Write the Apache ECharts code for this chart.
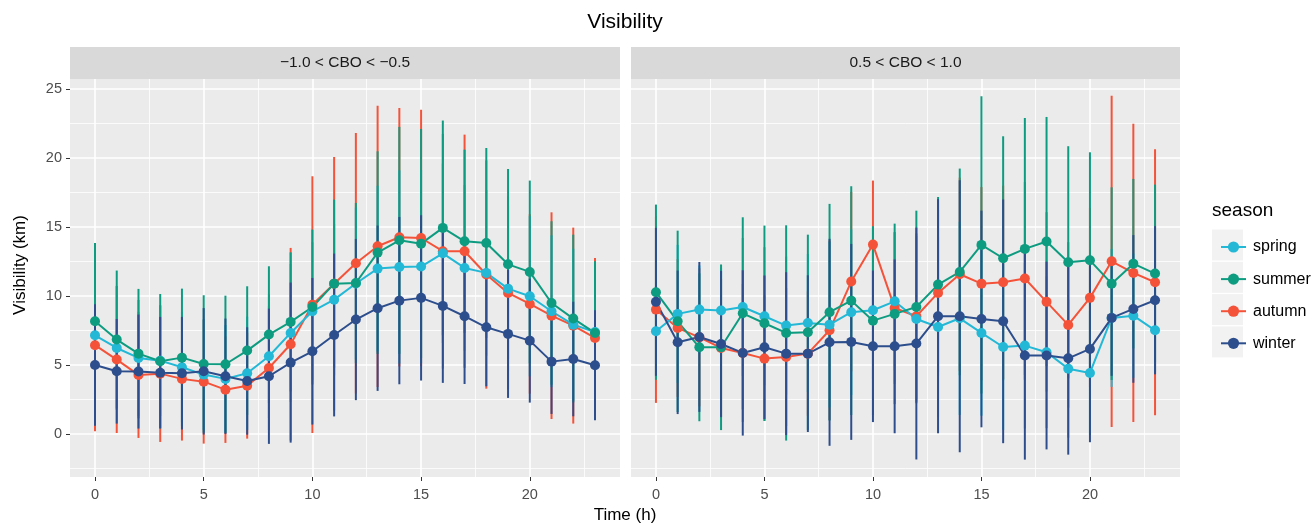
<!DOCTYPE html>
<html>
<head>
<meta charset="utf-8">
<script src="https://cdn.jsdelivr.net/npm/echarts@6/dist/echarts.min.js"></script>
<style>
  html, body { margin: 0; padding: 0; background: #fff; }
  #chart { width: 1314px; height: 526px; }
</style>
</head>
<body>
<div id="chart"></div>
<script>
// hours of the day (x)
const hours = [0, 1, 2, 3, 4, 5, 6, 7, 8, 9, 10, 11, 12, 13, 14, 15, 16, 17, 18, 19, 20, 21, 22, 23]
const panelNames = ['\u22121.0 < CBO < \u22120.5', '0.5 < CBO < 1.0']
const seasons = ['spring', 'summer', 'autumn', 'winter']   // legend order
const drawOrder = ['autumn', 'spring', 'summer', 'winter'] // ggplot draws groups alphabetically
const xTicks = [0, 5, 10, 15, 20]
const xMinor = [2.5, 7.5, 12.5, 17.5, 22.5]
const yTicks = [0, 5, 10, 15, 20, 25]
const yMinor = [-2.5, 2.5, 7.5, 12.5, 17.5, 22.5]

// panel A: -1.0 < CBO < -0.5   (mean, sd in km)
const springMeanA = [7.15, 6.23, 5.51, 5.31, 4.83, 4.30, 3.99, 4.40, 5.63, 7.32, 8.89, 9.73, 10.9, 11.98, 12.10, 12.13, 13.09, 12.03, 11.67, 10.53, 9.98, 8.89, 7.92, 7.39]
const springSdA = [5.4, 4.5, 4.2, 4.0, 4.0, 4.0, 3.9, 4.1, 4.5, 5.0, 5.0, 5.5, 5.5, 6.0, 7.0, 7.0, 6.5, 6.0, 6.0, 6.0, 5.8, 5.5, 5.5, 5.0]
const summerMeanA = [8.16, 6.84, 5.82, 5.27, 5.53, 5.07, 5.05, 6.04, 7.20, 8.12, 9.20, 10.89, 10.94, 13.14, 14.03, 13.79, 14.93, 13.96, 13.84, 12.29, 11.74, 9.49, 8.36, 7.32]
const summerSdA = [5.68, 5.0, 4.69, 4.87, 5.0, 4.98, 4.97, 4.66, 4.95, 5.04, 5.61, 6.09, 5.8, 7.34, 8.22, 8.31, 7.78, 6.64, 6.88, 6.91, 6.62, 5.92, 6.08, 5.19]
const autumnMeanA = [6.43, 5.39, 4.28, 4.37, 3.99, 3.79, 3.21, 3.50, 4.78, 6.50, 9.37, 10.89, 12.37, 13.60, 14.25, 14.20, 13.24, 13.24, 11.55, 10.22, 9.42, 8.57, 7.85, 6.96]
const autumnSdA = [6.24, 5.32, 4.57, 4.95, 4.47, 4.49, 3.86, 3.84, 4.5, 6.98, 9.3, 9.18, 9.44, 10.19, 9.37, 9.3, 8.5, 8.45, 8.27, 7.0, 6.5, 7.49, 7.1, 5.79]
const winterMeanA = [5.0, 4.54, 4.52, 4.44, 4.40, 4.54, 4.18, 3.84, 4.18, 5.17, 5.99, 7.17, 8.29, 9.11, 9.66, 9.86, 9.28, 8.53, 7.73, 7.25, 6.76, 5.24, 5.43, 4.98]
const winterSdA = [4.4, 3.79, 4.13, 4.04, 4.08, 4.58, 4.18, 3.89, 4.9, 5.8, 5.31, 5.9, 5.84, 5.99, 6.06, 5.99, 5.58, 4.91, 4.28, 4.64, 4.49, 3.79, 4.15, 3.99]

// panel B: 0.5 < CBO < 1.0
const springMeanB = [7.44, 8.70, 9.01, 8.94, 9.20, 8.53, 7.85, 8.04, 7.92, 8.82, 8.96, 9.61, 8.33, 7.75, 8.38, 7.32, 6.30, 6.40, 5.92, 4.73, 4.42, 8.41, 8.57, 7.51]
const springSdB = [3.3, 5.0, 3.2, 3.1, 5.0, 5.0, 5.0, 5.0, 6.0, 6.0, 5.0, 5.0, 6.0, 6.5, 7.0, 6.0, 6.0, 6.0, 5.5, 5.0, 4.5, 5.0, 4.5, 3.0]
const summerMeanB = [10.27, 8.16, 6.28, 6.28, 8.74, 8.02, 7.32, 7.37, 8.82, 9.66, 8.21, 8.70, 9.20, 10.82, 11.74, 13.70, 12.73, 13.41, 13.94, 12.44, 12.58, 10.89, 12.34, 11.62]
const summerSdB = [6.35, 6.57, 5.36, 6.0, 6.96, 7.08, 7.8, 7.07, 7.85, 8.29, 6.84, 6.54, 6.98, 6.35, 7.49, 10.77, 8.84, 9.49, 9.03, 8.41, 7.83, 6.98, 6.14, 6.45]
const autumnMeanB = [9.01, 7.68, 7.0, 6.23, 5.87, 5.46, 5.58, 5.82, 7.51, 11.04, 13.72, 9.13, 8.53, 10.22, 11.57, 10.89, 10.99, 11.26, 9.57, 7.90, 9.86, 12.51, 11.67, 10.99]
const autumnSdB = [6.76, 5.0, 5.0, 5.0, 5.0, 4.5, 5.0, 4.5, 6.5, 6.5, 4.64, 5.5, 6.0, 6.0, 7.0, 7.0, 7.0, 7.0, 6.5, 6.0, 6.5, 12.0, 10.8, 9.64]
const winterMeanB = [9.57, 6.64, 7.03, 6.52, 5.87, 6.28, 5.82, 5.82, 6.64, 6.67, 6.35, 6.35, 6.55, 8.53, 8.53, 8.33, 8.16, 5.68, 5.68, 5.48, 6.16, 8.41, 9.06, 9.69]
const winterSdB = [5.36, 5.2, 5.43, 5.3, 5.99, 5.2, 5.9, 5.68, 7.5, 7.1, 5.49, 6.3, 8.4, 8.48, 9.85, 7.85, 8.83, 7.54, 6.8, 6.98, 6.76, 4.2, 5.35, 5.37]

const colors = { spring: '#22B8D6', summer: '#0E9C81', autumn: '#F4533A', winter: '#2D4E8C' }
const panelData = [
  { spring: [springMeanA, springSdA], summer: [summerMeanA, summerSdA], autumn: [autumnMeanA, autumnSdA], winter: [winterMeanA, winterSdA] },
  { spring: [springMeanB, springSdB], summer: [summerMeanB, summerSdB], autumn: [autumnMeanB, autumnSdB], winter: [winterMeanB, winterSdB] }
]

const grids = [
  { left: 70, top: 79, width: 550, height: 398 },
  { left: 631, top: 79, width: 549, height: 398 }
]
const X_MIN = -1.15, X_MAX = 24.15
const Y_MIN = -3.12, Y_MAX = 25.72
const tickColor = '#4D4D4D'

const xAxes = [], yAxes = []
grids.forEach((g, gi) => {
  xAxes.push({
    type: 'value', gridIndex: gi, min: X_MIN, max: X_MAX, position: 'bottom',
    axisLine: { show: false, onZero: false },
    axisTick: { show: true, length: 4, customValues: xTicks, lineStyle: { color: '#333', width: 1 } },
    axisLabel: { customValues: xTicks, color: tickColor, fontSize: 14.5, margin: 10, fontFamily: 'Liberation Sans' },
    splitLine: { show: true, lineStyle: { color: '#fff', width: 1.6 } }
  })
  xAxes.push({
    type: 'value', gridIndex: gi, min: X_MIN, max: X_MAX,
    axisLine: { show: false, onZero: false }, axisLabel: { show: false },
    axisTick: { show: false, customValues: xMinor },
    splitLine: { show: true, lineStyle: { color: '#fff', width: 0.8 } }
  })
  yAxes.push({
    type: 'value', gridIndex: gi, min: Y_MIN, max: Y_MAX, position: 'left',
    axisLine: { show: false, onZero: false },
    axisTick: { show: gi === 0, length: 4, customValues: yTicks, lineStyle: { color: '#333', width: 1 } },
    axisLabel: { show: gi === 0, customValues: yTicks, color: tickColor, fontSize: 14.5, margin: 8, fontFamily: 'Liberation Sans' },
    splitLine: { show: true, lineStyle: { color: '#fff', width: 1.6 } }
  })
  yAxes.push({
    type: 'value', gridIndex: gi, min: Y_MIN, max: Y_MAX,
    axisLine: { show: false, onZero: false }, axisLabel: { show: false },
    axisTick: { show: false, customValues: yMinor },
    splitLine: { show: true, lineStyle: { color: '#fff', width: 0.8 } }
  })
})

const series = []
// lines first so the legend picks up the line+dot icon
grids.forEach((g, gi) => {
  drawOrder.forEach(s => {
    const mean = panelData[gi][s][0]
    series.push({
      name: s, type: 'line', xAxisIndex: gi * 2, yAxisIndex: gi * 2, z: 3,
      data: hours.map((h, i) => [h, mean[i]]),
      symbol: 'circle', symbolSize: 10, showSymbol: false,
      lineStyle: { color: colors[s], width: 2 },
      itemStyle: { color: colors[s] },
      silent: true, animation: false
    })
  })
})
grids.forEach((g, gi) => {
  drawOrder.forEach(s => {
    const [mean, sd] = panelData[gi][s]
    series.push({
      name: s, type: 'custom', xAxisIndex: gi * 2, yAxisIndex: gi * 2, z: 2,
      data: hours.map((h, i) => [h, mean[i] - sd[i], mean[i] + sd[i]]),
      encode: { x: 0, y: [1, 2] },
      renderItem: (params, api) => {
        const p1 = api.coord([api.value(0), api.value(1)])
        const p2 = api.coord([api.value(0), api.value(2)])
        return {
          type: 'line',
          shape: { x1: p1[0], y1: p1[1], x2: p2[0], y2: p2[1] },
          style: { stroke: colors[s], lineWidth: 2 }
        }
      },
      silent: true, animation: false
    })
    series.push({
      name: s, type: 'scatter', xAxisIndex: gi * 2, yAxisIndex: gi * 2, z: 4,
      data: hours.map((h, i) => [h, mean[i]]),
      symbol: 'circle', symbolSize: 10,
      itemStyle: { color: colors[s], opacity: 1 },
      silent: true, animation: false
    })
  })
})

const graphic = []
grids.forEach((g, gi) => {
  graphic.push({ type: 'rect', z: 0, shape: { x: g.left, y: 47, width: g.width, height: 32 }, style: { fill: '#D9D9D9' } })
  graphic.push({ type: 'text', z: 1, x: g.left + g.width / 2, y: 63,
    style: { text: panelNames[gi], fill: '#1A1A1A', font: '15.5px "Liberation Sans"', textAlign: 'center', textVerticalAlign: 'middle' } })
})
graphic.push({ type: 'text', x: 625, y: 22,
  style: { text: 'Visibility', fill: '#000', font: '21px "Liberation Sans"', textAlign: 'center', textVerticalAlign: 'middle' } })
graphic.push({ type: 'text', x: 625, y: 515,
  style: { text: 'Time (h)', fill: '#000', font: '17px "Liberation Sans"', textAlign: 'center', textVerticalAlign: 'middle' } })
graphic.push({ type: 'text', x: 20, y: 265, rotation: Math.PI / 2,
  style: { text: 'Visibility (km)', fill: '#000', font: '17px "Liberation Sans"', textAlign: 'center', textVerticalAlign: 'middle' } })
graphic.push({ type: 'text', x: 1212, y: 211,
  style: { text: 'season', fill: '#000', font: '19px "Liberation Sans"', textAlign: 'left', textVerticalAlign: 'middle' } })
seasons.forEach((s, i) => {
  graphic.push({ type: 'rect', z: 0, shape: { x: 1212, y: 229.5 + i * 32.3, width: 31, height: 31 }, style: { fill: '#F2F2F2' } })
})

const chart = echarts.init(document.getElementById('chart'))
chart.setOption({
  animation: false,
  backgroundColor: '#fff',
  grid: grids.map(g => Object.assign({ show: true, backgroundColor: '#EBEBEB', borderWidth: 0 }, g)),
  xAxis: xAxes,
  yAxis: yAxes,
  legend: {
    data: seasons, orient: 'vertical', left: 1215, top: 234, z: 10,
    itemWidth: 25, itemHeight: 14, itemGap: 16.1,
    selectedMode: false,
    textStyle: { fontSize: 16, lineHeight: 14, color: '#000', fontFamily: 'Liberation Sans', padding: [0, 0, 0, 2] }
  },
  graphic: graphic,
  series: series
})
window.addEventListener('resize', () => chart.resize())
</script>
</body>
</html>
